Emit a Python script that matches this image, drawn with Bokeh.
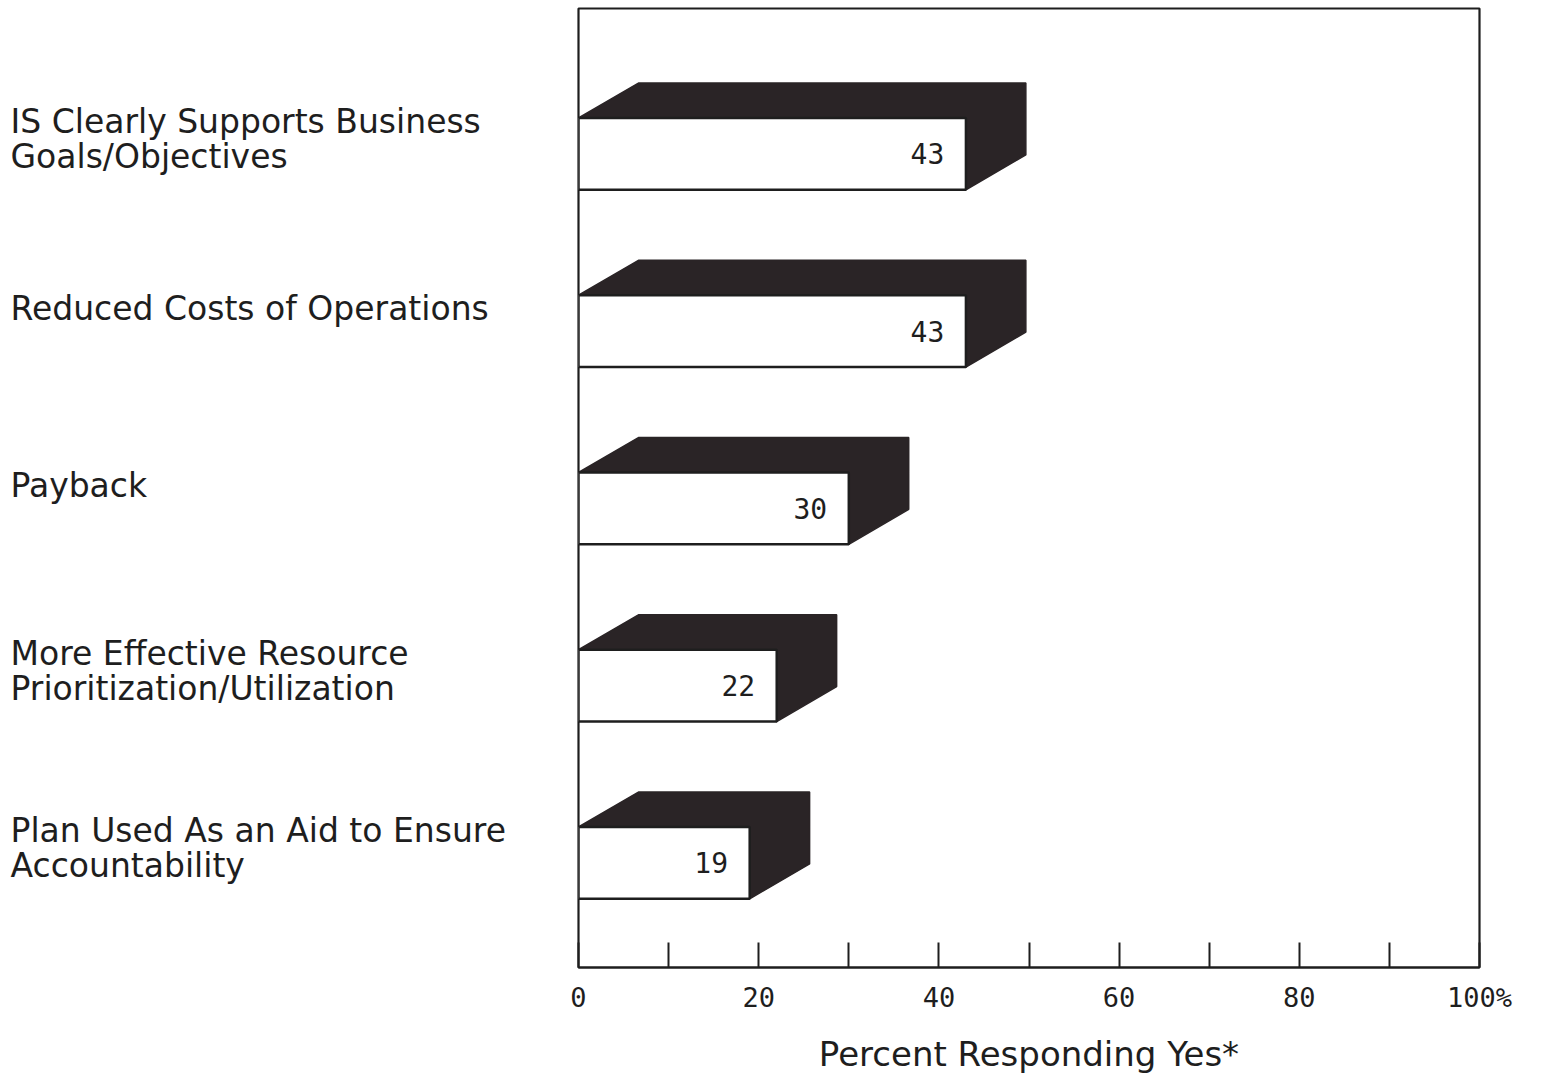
from bokeh.plotting import figure
from bokeh.models import Range1d, FixedTicker
from bokeh.layouts import row
from bokeh.core.properties import value
from bokeh.embed import file_html
from bokeh.resources import INLINE

# ---- data ----
categories = [
    "IS Clearly Supports Business\nGoals/Objectives",
    "Reduced Costs of Operations",
    "Payback",
    "More Effective Resource\nPrioritization/Utilization",
    "Plan Used As an Aid to Ensure\nAccountability",
]
values = [43, 43, 30, 22, 19]
tick_values = [0, 10, 20, 30, 40, 50, 60, 70, 80, 90, 100]
tick_labels = ["0", "", "20", "", "40", "", "60", "", "80", "", "100%"]
x_title = "Percent Responding Yes*"

DARK = "#2a2426"
INK = "#1e1e1e"

n = len(categories)
LEFT_W = 558
y_range = Range1d(-0.59, 4.82)

p = figure(width=1542 - LEFT_W, height=1076, output_backend="svg", toolbar_location=None,
           x_range=Range1d(0, 100), y_range=y_range,
           min_border_left=578 - LEFT_W, min_border_right=63, min_border_top=8, min_border_bottom=106,
           background_fill_color="white", border_fill_color="white")
p.grid.visible = False
p.yaxis.visible = False
p.outline_line_color = INK
p.outline_line_width = 2.2

h = 0.405   # front face height (y units)
dy = 0.197  # depth in y
dx = 6.65   # depth in x (percent units)

centers = [n - 1 - i for i in range(n)]
xs, ys = [], []
for c, v in zip(centers, values):
    yt = c + h / 2
    yb = c - h / 2
    xs.append([0, dx, v + dx, v + dx, v])
    ys.append([yt, yt + dy, yt + dy, yb + dy, yb])
p.patches(xs, ys, fill_color=DARK, line_color=DARK, line_width=1.5)
p.quad(left=[0] * n, right=values, bottom=[c - h / 2 for c in centers],
       top=[c + h / 2 for c in centers], fill_color="white", line_color=INK, line_width=2.5)

# value labels
p.text(x=[v - 2.4 for v in values], y=centers, text=[str(v) for v in values],
       text_align="right", text_baseline="middle", text_font_size="28px",
       text_font=value("DejaVu Sans Mono"), text_color=INK)

ax = p.xaxis[0]
ax.ticker = FixedTicker(ticks=tick_values)
ax.major_label_overrides = {t: l for t, l in zip(tick_values, tick_labels)}
ax.major_tick_in = 25
ax.major_tick_out = 0
ax.minor_tick_line_color = None
ax.major_tick_line_width = 2
ax.major_tick_line_color = INK
ax.axis_line_color = INK
ax.axis_line_width = 2.2
ax.major_label_standoff = 14
ax.major_label_text_font = "DejaVu Sans Mono"
ax.major_label_text_font_size = "27px"
ax.major_label_text_color = INK
ax.axis_label = x_title
ax.axis_label_text_font = "DejaVu Sans"
ax.axis_label_text_font_size = "34px"
ax.axis_label_text_font_style = "normal"
ax.axis_label_text_color = INK
ax.axis_label_standoff = 18

# ---- category labels panel (left) ----
q = figure(width=LEFT_W, height=1076, output_backend="svg", toolbar_location=None,
           x_range=Range1d(0, LEFT_W), y_range=y_range,
           min_border_left=0, min_border_right=0, min_border_top=8, min_border_bottom=106,
           background_fill_color="white", border_fill_color="white")
q.axis.visible = False
q.grid.visible = False
q.outline_line_color = None

line_gap = 0.197
lx, ly, lt = [], [], []
for c, cat in zip(centers, categories):
    lines = cat.split("\n")
    k = len(lines)
    mid = c + (0.13 if k == 1 else 0.085)
    for j, ln in enumerate(lines):
        lx.append(10)
        ly.append(mid + ((k - 1) / 2 - j) * line_gap)
        lt.append(ln)
q.text(x=lx, y=ly, text=lt, text_align="left", text_baseline="middle",
       text_font=value("DejaVu Sans"), text_font_size="33px", text_color=INK)

layout = row(q, p, spacing=0)
open("out.html", "w").write(file_html(layout, INLINE))
